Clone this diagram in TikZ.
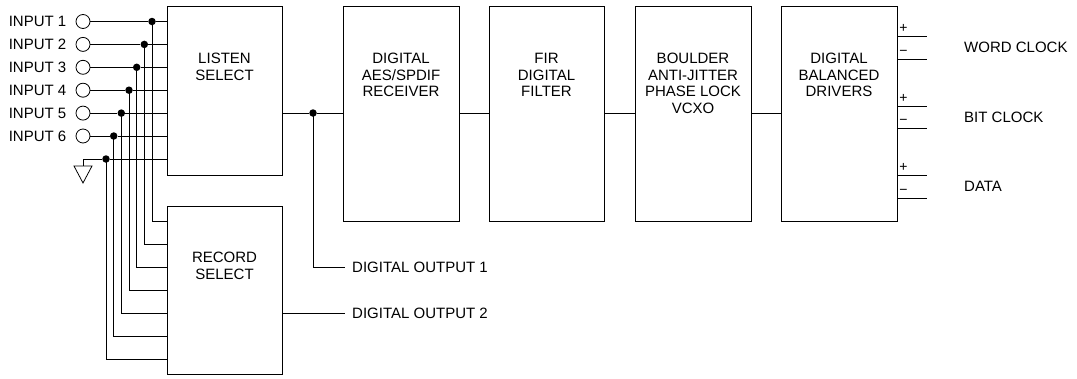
\documentclass[tikz,border=0pt]{standalone}
\usepackage{fontspec}
\setmainfont{Liberation Sans}
\begin{document}
\begin{tikzpicture}[x=1pt,y=-1pt,
  blk/.style={draw,line width=0.9pt,rectangle,inner sep=0pt,minimum width=115pt},
  lbl/.style={font=\fontsize{15}{16.5}\selectfont,align=center,anchor=north,inner sep=0pt},
  txt/.style={font=\fontsize{15}{16.5}\selectfont,inner sep=0pt},
  sgn/.style={font=\fontsize{14}{15}\selectfont,inner sep=0pt},
  wire/.style={line width=0.8pt},
  jn/.style={circle,fill,inner sep=0pt,minimum size=7.5pt},
  jack/.style={circle,draw,line width=0.8pt,inner sep=0pt,minimum size=14pt}]
\useasboundingbox (0,0) rectangle (1077,378);
% blocks
\node[blk,minimum height=169pt] (listen) at (224.5,90.5) {};
\node[blk,minimum height=168pt] (record) at (224.5,290) {};
\node[blk,minimum width=116pt,minimum height=215pt] (aes) at (401,113.5) {};
\node[blk,minimum height=215pt] (fir) at (546.5,113.5) {};
\node[blk,minimum width=116pt,minimum height=215pt] (boulder) at (693,113.5) {};
\node[blk,minimum width=116pt,minimum height=215pt] (drv) at (839,113.5) {};
\node[lbl] (tlisten) at (224.5,53) {LISTEN\\SELECT};
\node[lbl] (trecord) at (224.5,252) {RECORD\\SELECT};
\node[lbl] (taes) at (401,53) {DIGITAL\\AES/SPDIF\\RECEIVER};
\node[lbl] (tfir) at (546.5,53) {FIR\\DIGITAL\\FILTER};
\node[lbl] (tboulder) at (693,53) {BOULDER\\ANTI-JITTER\\PHASE LOCK\\VCXO};
\node[lbl] (tdrv) at (839,53) {DIGITAL\\BALANCED\\DRIVERS};
% inputs
\foreach \i/\yy/\xx/\ry in {1/21.5/152/221,2/44.4/144.3/244,3/67.3/136.7/267,4/90.2/129/290,5/113.1/121.3/313,6/136/113.7/336}{
  \node[txt,anchor=east] (in\i) at (66.5,\yy) {INPUT \i};
  \node[jack] (j\i) at (83,\yy) {};
  \node[jn] (d\i) at (\xx,\yy) {};
  \coordinate (r\i) at (record.west |- 0,\ry);
  \draw[wire] (j\i.east) -- (d\i) -- (listen.west |- d\i);
  \draw[wire] (d\i.center) |- (r\i);
}
% ground
\node[jn] (d7) at (106,159) {};
\coordinate (g0) at (83,159);
\coordinate (gt) at (83,166);
\coordinate (gl) at (74,166);
\coordinate (gr) at (92,166);
\coordinate (ga) at (83,183);
\coordinate (r7) at (record.west |- 0,359);
\draw[wire] (gt) -- (g0) -- (d7) -- (listen.west |- d7);
\draw[wire] (gl) -- (gr) -- (ga) -- cycle;
\draw[wire] (d7.center) |- (r7);
% main chain
\node[jn] (dout) at (313,113) {};
\draw[wire] (listen.east |- 0,113) -- (dout) -- (aes.west |- 0,113);
\draw[wire] (aes.east |- 0,113) -- (fir.west |- 0,113);
\draw[wire] (fir.east |- 0,113) -- (boulder.west |- 0,113);
\draw[wire] (boulder.east |- 0,113) -- (drv.west |- 0,113);
% digital outputs
\node[txt,anchor=west] (o1) at (352,267) {DIGITAL OUTPUT 1};
\node[txt,anchor=west] (o2) at (352,313) {DIGITAL OUTPUT 2};
\draw[wire] (dout.center) |- ([xshift=-7pt]o1.west);
\draw[wire] (record.east |- o2) -- ([xshift=-7pt]o2.west);
% driver outputs
\foreach \n/\yp/\ym/\name in {w/36/59/WORD CLOCK,b/106/128/BIT CLOCK,d/175/198/DATA}{
  \coordinate (\n p) at (927,\yp);
  \coordinate (\n m) at (927,\ym);
  \draw[wire] (drv.east |- \n p) -- (\n p);
  \draw[wire] (drv.east |- \n m) -- (\n m);
  \node[sgn] (\n ps) at (903.5,\yp-7.5) {+};
  \node[sgn] (\n ms) at (903.5,\ym-6.5) {−};
  \node[txt,anchor=west] (\n t) at (964,{(\yp+\ym)/2}) {\name};
}
\end{tikzpicture}
\end{document}
